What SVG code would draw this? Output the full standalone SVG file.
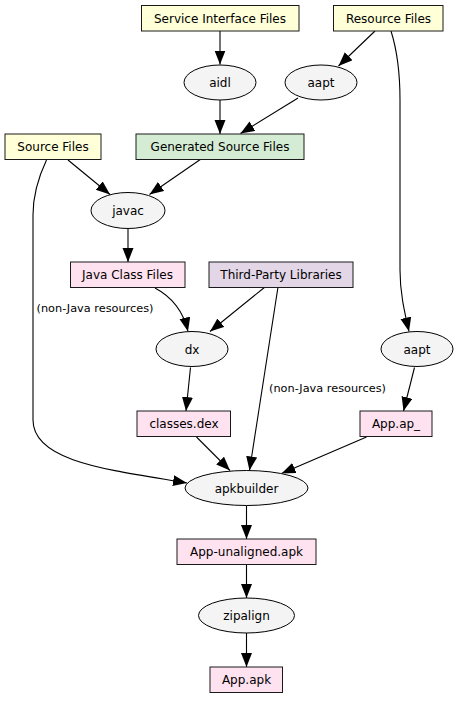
<svg xmlns="http://www.w3.org/2000/svg" width="458" height="708" viewBox="0 0 458 708">
<style>
  .bg{fill:#ffffff}
  .box rect{stroke:#1a1a1a;stroke-width:1}
  .src rect{fill:#ffffd8}
  .gen rect{fill:#d5ecd4}
  .out rect{fill:#ffe2f0}
  .lib rect{fill:#e3d6e7}
  .tool ellipse{fill:#f4f4f4;stroke:#000;stroke-width:1}
  text{font-family:"DejaVu Sans","Liberation Sans",sans-serif;font-size:12px;fill:#000;text-anchor:middle}
  .lbl{font-size:11.3px;text-anchor:start}
  .edges path{fill:none;stroke:#000;stroke-width:1.1}
</style>
<defs>
  <marker id="ah" markerUnits="userSpaceOnUse" markerWidth="15" markerHeight="12" refX="14" refY="5.5" orient="auto">
    <path d="M0,0 L14,5.5 L0,11 z" fill="#000"/>
  </marker>
</defs>
<rect class="bg" x="0" y="0" width="458" height="708"/>

<g id="edges" class="edges">
  <path d="M220,31 L220,64.5" marker-end="url(#ah)"/>
  <path d="M220,100 L220,134" marker-end="url(#ah)"/>
  <path d="M375,31 L338.5,66" marker-end="url(#ah)"/>
  <path d="M298,98 L240.5,133.5" marker-end="url(#ah)"/>
  <path d="M391,31 C397,50 400,70 400,100 L400,270 C400,292 404,310 409,331.5" marker-end="url(#ah)"/>
  <path d="M68,160 L110,194.5" marker-end="url(#ah)"/>
  <path d="M201,159 L149.5,194.5" marker-end="url(#ah)"/>
  <path d="M46.5,160 C38,178 33,195 33,215 L33,420 C33,462 110,470 187,483" marker-end="url(#ah)"/>
  <path d="M128,229 L128,262" marker-end="url(#ah)"/>
  <path d="M155,288 C172,297 183,310 188,331.5" marker-end="url(#ah)"/>
  <path d="M265,287 L210,331.5" marker-end="url(#ah)"/>
  <path d="M278,287 L249.5,470.5" marker-end="url(#ah)"/>
  <path d="M190.5,367.5 L186,411" marker-end="url(#ah)"/>
  <path d="M414.5,367.5 L403.5,411" marker-end="url(#ah)"/>
  <path d="M196.5,437 L230,470.5" marker-end="url(#ah)"/>
  <path d="M366.5,437 L281.5,473.5" marker-end="url(#ah)"/>
  <path d="M246.5,505.5 L246.5,539" marker-end="url(#ah)"/>
  <path d="M246.5,565 L246.5,598" marker-end="url(#ah)"/>
  <path d="M246.5,633 L246.5,667" marker-end="url(#ah)"/>
  <text class="lbl" x="36.5" y="312">(non-Java resources)</text>
  <text class="lbl" x="269" y="391.5">(non-Java resources)</text>
</g>

<g id="service-interface-files" class="box src"><rect x="141.5" y="5.5" width="157.5" height="25.5"/><text x="220" y="22.5">Service Interface Files</text></g>
<g id="resource-files" class="box src"><rect x="333.5" y="5.5" width="109.5" height="25.5"/><text x="388.5" y="22.5">Resource Files</text></g>
<g id="aidl" class="tool"><ellipse cx="220" cy="82.5" rx="36" ry="17.5"/><text x="220" y="87">aidl</text></g>
<g id="aapt-1" class="tool"><ellipse cx="321" cy="82.5" rx="36" ry="17.5"/><text x="321" y="87">aapt</text></g>
<g id="source-files" class="box src"><rect x="5" y="134" width="96" height="25.5"/><text x="53" y="151">Source Files</text></g>
<g id="generated-source-files" class="box gen"><rect x="136" y="134" width="168" height="25.5"/><text x="220" y="151">Generated Source Files</text></g>
<g id="javac" class="tool"><ellipse cx="128" cy="210.5" rx="37" ry="18"/><text x="128" y="215">javac</text></g>
<g id="java-class-files" class="box out"><rect x="70.5" y="262" width="114.5" height="25.5"/><text x="127.5" y="279">Java Class Files</text></g>
<g id="third-party-libraries" class="box lib"><rect x="209" y="262" width="144" height="25.5"/><text x="281" y="279">Third-Party Libraries</text></g>
<g id="dx" class="tool"><ellipse cx="192" cy="349" rx="36" ry="17.5"/><text x="192" y="353.5">dx</text></g>
<g id="aapt-2" class="tool"><ellipse cx="417" cy="349" rx="36" ry="17.5"/><text x="417" y="353.5">aapt</text></g>
<g id="classes-dex" class="box out"><rect x="137" y="411" width="93.5" height="25.5"/><text x="184" y="428">classes.dex</text></g>
<g id="app-ap" class="box out"><rect x="360" y="411" width="72" height="25.5"/><text x="396" y="428">App.ap_</text></g>
<g id="apkbuilder" class="tool"><ellipse cx="246.5" cy="488" rx="61.5" ry="17.5"/><text x="246.5" y="492.5">apkbuilder</text></g>
<g id="app-unaligned-apk" class="box out"><rect x="177" y="539" width="139" height="25.5"/><text x="246.5" y="556">App-unaligned.apk</text></g>
<g id="zipalign" class="tool"><ellipse cx="246.5" cy="615.5" rx="48" ry="17.5"/><text x="246.5" y="620">zipalign</text></g>
<g id="app-apk" class="box out"><rect x="210" y="667" width="72.5" height="25.5"/><text x="246.5" y="684">App.apk</text></g>
</svg>
